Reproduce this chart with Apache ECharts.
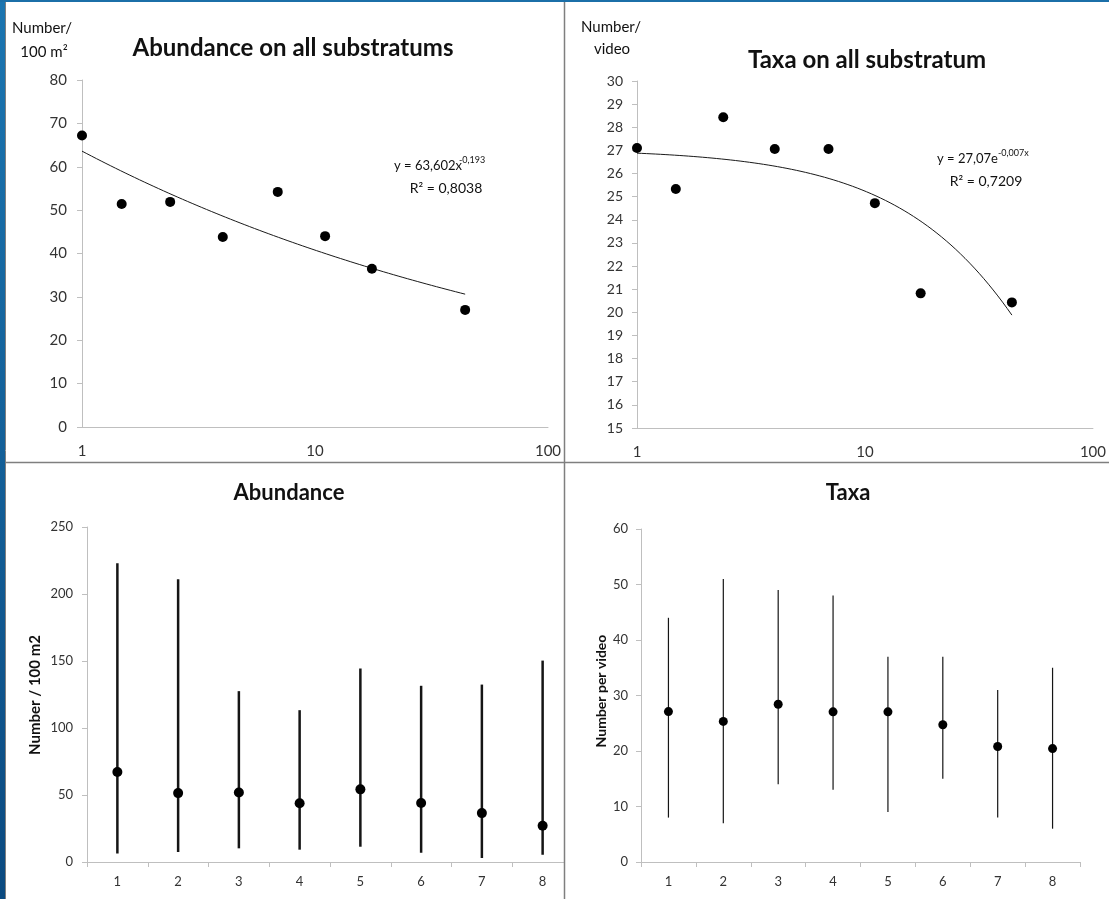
<!DOCTYPE html>
<html>
<head>
<meta charset="utf-8">
<title>Abundance and taxa on substratums</title>
<script src="https://cdn.jsdelivr.net/npm/echarts@6/dist/echarts.min.js"></script>
<style>
  html, body { margin: 0; padding: 0; background: #ffffff; }
  #chart { width: 1109px; height: 899px; }
</style>
</head>
<body>
<div id="chart"></div>
<script>
// Substratum size class (log scale) and the eight stations
const substrateSize = [1, 1.48, 2.39, 4.02, 6.92, 11.05, 17.55, 44.1];
const stations = ['1', '2', '3', '4', '5', '6', '7', '8'];

// Abundance (number / 100 m2)
const abundanceMean = [67.2, 51.4, 51.9, 43.8, 54.2, 44.0, 36.5, 27.0];
const abundanceMin = [6.4, 7.5, 10.2, 9.2, 11.4, 6.9, 3.0, 5.4];
const abundanceMax = [223, 211, 127.5, 113.3, 144.4, 131.5, 132.4, 150.3];

// Taxa (number per video)
const taxaMean = [27.1, 25.33, 28.43, 27.06, 27.06, 24.72, 20.82, 20.43];
const taxaMin = [8, 7, 14, 13, 9, 15, 8, 6];
const taxaMax = [44, 51, 49, 48, 37, 37, 31, 35];

// Fitted trend lines as printed on the charts
const powerFit = [63.602, -0.193];      // y = a * x^b
const expFit = [27.07, -0.007];         // y = a * e^(b x)

const FONT = 'Lato, "Open Sans", sans-serif';
const NARROW = '"Liberation Sans Narrow", Lato, sans-serif';
const AXIS_COLOR = '#bfbfbf';
const TEXT_COLOR = '#333333';

function trendPoints(fn) {
  const pts = [];
  const x0 = substrateSize[0];
  const x1 = substrateSize[substrateSize.length - 1];
  const n = 80;
  for (let i = 0; i <= n; i++) {
    const x = Math.pow(10, Math.log10(x0) + (Math.log10(x1) - Math.log10(x0)) * i / n);
    pts.push([x, fn(x)]);
  }
  return pts;
}
const powerLine = trendPoints(x => powerFit[0] * Math.pow(x, powerFit[1]));
const expLine = trendPoints(x => expFit[0] * Math.exp(expFit[1] * x));

function rangeRenderer(width) {
  return function (params, api) {
    const lo = api.coord([api.value(0), api.value(1)]);
    const hi = api.coord([api.value(0), api.value(2)]);
    return {
      type: 'line',
      shape: { x1: lo[0], y1: lo[1], x2: hi[0], y2: hi[1] },
      style: { stroke: '#151515', lineWidth: width }
    };
  };
}

function valueAxis(grid, min, max, interval, fontSize, margin) {
  return {
    type: 'value', gridIndex: grid, min: min, max: max, interval: interval,
    axisLine: { show: true, lineStyle: { color: AXIS_COLOR, width: 1 } },
    axisTick: { show: true, inside: false, length: 5, lineStyle: { color: AXIS_COLOR } },
    splitLine: { show: false },
    axisLabel: { color: TEXT_COLOR, fontFamily: FONT, fontSize: fontSize, margin: margin }
  };
}
function logAxis(grid) {
  return {
    type: 'log', logBase: 10, gridIndex: grid, min: 1, max: 100,
    axisLine: { show: true, onZero: false, lineStyle: { color: AXIS_COLOR, width: 1 } },
    axisTick: { show: false },
    minorTick: { show: false },
    splitLine: { show: false },
    axisLabel: { color: TEXT_COLOR, fontFamily: FONT, fontSize: 15, margin: 17 }
  };
}
function categoryAxis(grid) {
  return {
    type: 'category', gridIndex: grid, data: stations, boundaryGap: true,
    axisLine: { show: true, onZero: false, lineStyle: { color: AXIS_COLOR, width: 1 } },
    axisTick: { show: true, inside: false, length: 5, alignWithLabel: false, lineStyle: { color: AXIS_COLOR } },
    splitLine: { show: false },
    axisLabel: { color: TEXT_COLOR, fontFamily: FONT, fontSize: 13, margin: 13 }
  };
}

function txt(x, y, text, size, weight, align, extra, family) {
  return Object.assign({
    type: 'text', x: x, y: y, z: 50,
    style: {
      text: text, fill: '#111', font: (weight || 'normal') + ' ' + size + 'px ' + (family || FONT),
      align: align || 'center', verticalAlign: 'middle'
    }
  }, extra || {});
}

const chart = echarts.init(document.getElementById('chart'), null, { renderer: 'canvas' });

const dot = { color: '#000000', opacity: 1 };

const option = {
  backgroundColor: '#ffffff',
  animation: false,
  grid: [
    { left: 82, top: 80, width: 466, height: 347 },
    { left: 637, top: 81, width: 460, height: 347 },
    { left: 87, top: 527, width: 486, height: 335 },
    { left: 641, top: 529, width: 439, height: 333 }
  ],
  xAxis: [
    logAxis(0),
    logAxis(1),
    categoryAxis(2),
    categoryAxis(3)
  ],
  yAxis: [
    valueAxis(0, 0, 80, 10, 15, 15),
    valueAxis(1, 15, 30, 1, 14, 14),
    valueAxis(2, 0, 250, 50, 13, 14),
    valueAxis(3, 0, 60, 10, 13, 13)
  ],
  series: [
    {
      type: 'line', xAxisIndex: 0, yAxisIndex: 0, data: powerLine, showSymbol: false,
      smooth: false, lineStyle: { color: '#1a1a1a', width: 1 }, z: 2
    },
    {
      type: 'scatter', xAxisIndex: 0, yAxisIndex: 0, symbolSize: 10,
      itemStyle: dot, z: 3,
      data: substrateSize.map((x, i) => [x, abundanceMean[i]])
    },
    {
      type: 'line', xAxisIndex: 1, yAxisIndex: 1, data: expLine, showSymbol: false,
      smooth: false, lineStyle: { color: '#1a1a1a', width: 1 }, z: 2
    },
    {
      type: 'scatter', xAxisIndex: 1, yAxisIndex: 1, symbolSize: 10,
      itemStyle: dot, z: 3,
      data: substrateSize.map((x, i) => [x, taxaMean[i]])
    },
    {
      type: 'custom', xAxisIndex: 2, yAxisIndex: 2, renderItem: rangeRenderer(2.5), z: 2,
      data: stations.map((s, i) => [i, abundanceMin[i], abundanceMax[i]])
    },
    {
      type: 'scatter', xAxisIndex: 2, yAxisIndex: 2, symbolSize: 10,
      itemStyle: dot, z: 3,
      data: stations.map((s, i) => [i, abundanceMean[i]])
    },
    {
      type: 'custom', xAxisIndex: 3, yAxisIndex: 3, renderItem: rangeRenderer(1.2), z: 2,
      data: stations.map((s, i) => [i, taxaMin[i], taxaMax[i]])
    },
    {
      type: 'scatter', xAxisIndex: 3, yAxisIndex: 3, symbolSize: 9,
      itemStyle: dot, z: 3,
      data: stations.map((s, i) => [i, taxaMean[i]])
    }
  ],
  graphic: [
    // frame: blue edge on the left and top, grey panel dividers
    {
      type: 'rect', shape: { x: 0, y: 0, width: 5, height: 899 }, z: 100,
      style: {
        fill: new echarts.graphic.LinearGradient(0, 0, 0, 1, [
          { offset: 0, color: '#1b75b0' }, { offset: 1, color: '#0b4a80' }
        ])
      }
    },
    { type: 'rect', shape: { x: 0, y: 0, width: 1109, height: 2 }, z: 100, style: { fill: '#1b6fa8' } },
    { type: 'rect', shape: { x: 564, y: 463, width: 14, height: 436 }, z: 90, style: { fill: '#ffffff' } },
    { type: 'line', shape: { x1: 5.5, y1: 2, x2: 5.5, y2: 899 }, z: 100, style: { stroke: '#808080', lineWidth: 1 } },
    { type: 'line', shape: { x1: 564.5, y1: 2, x2: 564.5, y2: 899 }, z: 100, style: { stroke: '#7f7f7f', lineWidth: 1.5 } },
    { type: 'line', shape: { x1: 5, y1: 462.5, x2: 1109, y2: 462.5 }, z: 100, style: { stroke: '#7f7f7f', lineWidth: 1.5 } },

    // titles
    txt(293, 48, 'Abundance on all substratums', 24, 'bold'),
    txt(867, 60, 'Taxa on all substratum', 24, 'bold'),
    txt(289, 493, 'Abundance', 22, 'bold'),
    txt(848, 493, 'Taxa', 22, 'bold'),

    // axis names
    txt(42, 28, 'Number/', 15, 'normal'),
    txt(44, 52, '100 m²', 15, 'normal'),
    txt(611, 27, 'Number/', 15, 'normal'),
    txt(612, 49, 'video', 15, 'normal'),
    txt(35, 695, 'Number / 100 m2', 15, 'bold', 'center', { rotation: Math.PI / 2 }, NARROW),
    txt(601, 691, 'Number per video', 14, 'bold', 'center', { rotation: Math.PI / 2 }, NARROW),

    // trend equations
    txt(394, 166, 'y = 63,602x', 13, 'normal', 'left'),
    txt(459, 160, '-0,193', 9, 'normal', 'left'),
    txt(446, 188, 'R² = 0,8038', 14, 'normal'),
    txt(937, 159, 'y = 27,07e', 13, 'normal', 'left'),
    txt(998, 153, '-0,007x', 9, 'normal', 'left'),
    txt(986, 181, 'R² = 0,7209', 14, 'normal')
  ]
};

chart.setOption(option);
</script>
</body>
</html>
